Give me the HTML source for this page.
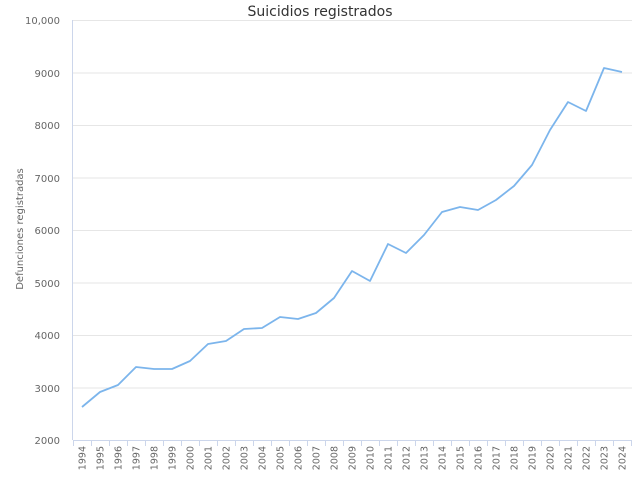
<!DOCTYPE html>
<html><head><meta charset="utf-8"><style>
html,body{margin:0;padding:0;background:#fff;}
svg{display:block;font-family:"DejaVu Sans","Liberation Sans",sans-serif;}
</style></head><body>
<svg width="640" height="480" viewBox="0 0 640 480" xmlns="http://www.w3.org/2000/svg">
<rect width="640" height="480" fill="#fff"/>
<text x="320" y="16" text-anchor="middle" font-size="14" fill="#333">Suicidios registrados</text>
<g stroke="#e6e6e6" stroke-width="1">
<line x1="73" x2="632" y1="20.5" y2="20.5"/>
<line x1="73" x2="632" y1="73" y2="73"/>
<line x1="73" x2="632" y1="125.5" y2="125.5"/>
<line x1="73" x2="632" y1="178" y2="178"/>
<line x1="73" x2="632" y1="230.5" y2="230.5"/>
<line x1="73" x2="632" y1="283" y2="283"/>
<line x1="73" x2="632" y1="335.5" y2="335.5"/>
<line x1="73" x2="632" y1="388" y2="388"/>
</g>
<line x1="72.5" x2="72.5" y1="20" y2="440" stroke="#ccd6eb"/>
<line x1="73" x2="632" y1="440.5" y2="440.5" stroke="#ccd6eb"/>
<g stroke="#ccd6eb">
<path d="M73.5 440v6M91.5 440v6M109.5 440v6M127.5 440v6M145.5 440v6M163.5 440v6M181.5 440v6M199.5 440v6M217.5 440v6M235.5 440v6M253.5 440v6M271.5 440v6M289.5 440v6M307.5 440v6M325.5 440v6M343.5 440v6M361.5 440v6M379.5 440v6M397.5 440v6M415.5 440v6M433.5 440v6M451.5 440v6M469.5 440v6M487.5 440v6M505.5 440v6M523.5 440v6M541.5 440v6M559.5 440v6M577.5 440v6M595.5 440v6M613.5 440v6M631.5 440v6"/>
</g>
<g font-size="10" fill="#666" text-anchor="end">
<text x="60" y="24">10,000</text>
<text x="60" y="77">9000</text>
<text x="60" y="129">8000</text>
<text x="60" y="182">7000</text>
<text x="60" y="234">6000</text>
<text x="60" y="287">5000</text>
<text x="60" y="339">4000</text>
<text x="60" y="392">3000</text>
<text x="60" y="444">2000</text>
</g>
<text transform="translate(23,229) rotate(-90)" text-anchor="middle" font-size="10" fill="#666">Defunciones registradas</text>
<g font-size="9.5" fill="#666" text-anchor="end">
<text transform="translate(85.5,446) rotate(-90)">1994</text>
<text transform="translate(103.5,446) rotate(-90)">1995</text>
<text transform="translate(121.5,446) rotate(-90)">1996</text>
<text transform="translate(139.5,446) rotate(-90)">1997</text>
<text transform="translate(157.5,446) rotate(-90)">1998</text>
<text transform="translate(175.5,446) rotate(-90)">1999</text>
<text transform="translate(193.5,446) rotate(-90)">2000</text>
<text transform="translate(211.5,446) rotate(-90)">2001</text>
<text transform="translate(229.5,446) rotate(-90)">2002</text>
<text transform="translate(247.5,446) rotate(-90)">2003</text>
<text transform="translate(265.5,446) rotate(-90)">2004</text>
<text transform="translate(283.5,446) rotate(-90)">2005</text>
<text transform="translate(301.5,446) rotate(-90)">2006</text>
<text transform="translate(319.5,446) rotate(-90)">2007</text>
<text transform="translate(337.5,446) rotate(-90)">2008</text>
<text transform="translate(355.5,446) rotate(-90)">2009</text>
<text transform="translate(373.5,446) rotate(-90)">2010</text>
<text transform="translate(391.5,446) rotate(-90)">2011</text>
<text transform="translate(409.5,446) rotate(-90)">2012</text>
<text transform="translate(427.5,446) rotate(-90)">2013</text>
<text transform="translate(445.5,446) rotate(-90)">2014</text>
<text transform="translate(463.5,446) rotate(-90)">2015</text>
<text transform="translate(481.5,446) rotate(-90)">2016</text>
<text transform="translate(499.5,446) rotate(-90)">2017</text>
<text transform="translate(517.5,446) rotate(-90)">2018</text>
<text transform="translate(535.5,446) rotate(-90)">2019</text>
<text transform="translate(553.5,446) rotate(-90)">2020</text>
<text transform="translate(571.5,446) rotate(-90)">2021</text>
<text transform="translate(589.5,446) rotate(-90)">2022</text>
<text transform="translate(607.5,446) rotate(-90)">2023</text>
<text transform="translate(625.5,446) rotate(-90)">2024</text>
</g>
<polyline fill="none" stroke="#7cb5ec" stroke-width="1.8" stroke-linejoin="round" points="82,407 100,392 118,385 136,367 154,369 172,369 190,361 208,344 226,341 244,329 262,328 280,317 298,319 316,313 334,298 352,271 370,281 388,244 406,253 424,235 442,212 460,207 478,210 496,200 514,186 532,165 550,130 568,102 586,111 604,68 622,72"/>
</svg>
</body></html>
